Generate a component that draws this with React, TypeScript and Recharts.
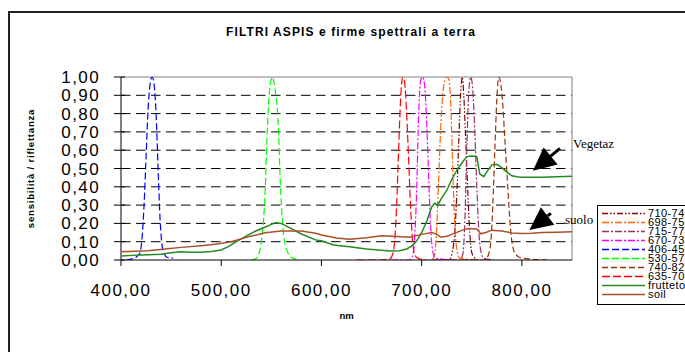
import React from 'react';
import { LineChart, Line, XAxis, YAxis, CartesianGrid, ReferenceLine, Label } from 'recharts';

type Pt = [number, number];

const xTicks = [400, 500, 600, 700, 800];
const yTicks = [0, 0.1, 0.2, 0.3, 0.4, 0.5, 0.6, 0.7, 0.8, 0.9, 1];

const f710_747: Pt[] = [[710, 0], [728, 0], [730, 0.03], [733, 0.15], [735, 0.35], [737, 0.65], [739, 0.92], [740.5, 1], [742, 0.9], [744, 0.65], [746, 0.38], [748, 0.15], [750, 0.04], [753, 0.01], [756, 0]];
const f698_754: Pt[] = [[698, 0], [710, 0], [713, 0.03], [715, 0.18], [717, 0.45], [719, 0.72], [721, 0.9], [723, 0.98], [725, 1], [727, 0.99], [729, 0.85], [731, 0.5], [733, 0.2], [735, 0.06], [738, 0.01], [754, 0]];
const f715_772: Pt[] = [[715, 0], [738, 0], [741, 0.03], [743, 0.2], [745, 0.6], [747, 0.92], [749, 1], [751, 0.93], [753, 0.7], [755, 0.4], [757, 0.16], [759, 0.05], [762, 0.01], [772, 0]];
const f670_733: Pt[] = [[670, 0], [688, 0], [691, 0.02], [693, 0.12], [695, 0.38], [697, 0.8], [699, 0.98], [701, 1], [703, 0.95], [705, 0.75], [707, 0.45], [709, 0.18], [711, 0.05], [714, 0.01], [733, 0]];
const f406_450: Pt[] = [[405, 0], [410, 0.005], [415, 0.015], [419, 0.04], [421, 0.12], [423, 0.3], [425, 0.56], [427, 0.82], [429, 0.96], [431, 1], [433, 0.96], [435, 0.8], [437, 0.5], [439, 0.22], [441, 0.08], [443, 0.035], [446, 0.015], [452, 0.01]];
const f530_575: Pt[] = [[530, 0], [535, 0.01], [538, 0.04], [540, 0.1], [542, 0.2], [544, 0.4], [545.5, 0.64], [548, 0.91], [551, 1], [553.5, 0.94], [557, 0.73], [559, 0.42], [561, 0.22], [562, 0.15], [564, 0.08], [567, 0.035], [570, 0.015], [575, 0.005]];
const f740_825: Pt[] = [[740, 0], [762, 0], [766, 0.02], [769, 0.1], [771, 0.3], [773, 0.6], [775, 0.88], [777, 1], [779, 0.96], [781, 0.84], [783, 0.66], [785, 0.48], [787, 0.3], [789, 0.15], [791, 0.07], [794, 0.03], [800, 0.01], [825, 0]];
const f635_704: Pt[] = [[635, 0], [660, 0], [668, 0.005], [671, 0.03], [673, 0.1], [675, 0.3], [677, 0.6], [679, 0.88], [681, 1], [683, 0.97], [685, 0.8], [687, 0.55], [689, 0.28], [691, 0.1], [693, 0.03], [696, 0.01], [704, 0]];

const frutteto: Pt[] = [[400, 0.022], [420, 0.028], [440, 0.031], [450, 0.04], [460, 0.045], [470, 0.043], [480, 0.042], [490, 0.046], [500, 0.055], [507, 0.073], [515, 0.1], [527, 0.137], [535, 0.16], [544, 0.18], [554, 0.204], [560, 0.2], [567, 0.18], [580, 0.142], [594, 0.11], [600, 0.105], [612, 0.082], [628, 0.073], [645, 0.06], [660, 0.053], [668, 0.049], [678, 0.05], [685, 0.06], [690, 0.075], [695, 0.105], [700, 0.15], [705, 0.21], [710, 0.29], [713, 0.31], [716, 0.3], [720, 0.34], [725, 0.38], [730, 0.44], [735, 0.49], [740, 0.53], [745, 0.565], [750, 0.568], [755, 0.565], [758, 0.47], [762, 0.455], [766, 0.49], [770, 0.52], [775, 0.523], [780, 0.505], [785, 0.48], [790, 0.46], [795, 0.455], [800, 0.452], [820, 0.452], [835, 0.455], [850, 0.457]];
const soil: Pt[] = [[400, 0.045], [427, 0.051], [444, 0.06], [460, 0.069], [480, 0.078], [494, 0.086], [510, 0.1], [527, 0.127], [544, 0.149], [560, 0.158], [580, 0.158], [594, 0.146], [600, 0.137], [615, 0.12], [628, 0.113], [645, 0.122], [660, 0.132], [675, 0.128], [688, 0.125], [700, 0.14], [710, 0.15], [715, 0.14], [719, 0.125], [725, 0.13], [730, 0.14], [740, 0.162], [747, 0.172], [755, 0.17], [759, 0.143], [764, 0.15], [770, 0.163], [780, 0.158], [790, 0.148], [800, 0.145], [810, 0.146], [820, 0.15], [835, 0.152], [850, 0.155]];

const legendNames = ['710-747', '698-754', '715-772', '670-733', '406-450', '530-575', '740-825', '635-704', 'frutteto', 'soil'];

const arrowVeg = [{ x: 838, y: 0.61 }, { x: 811, y: 0.488 }];
const arrowSoil = [{ x: 829, y: 0.255 }, { x: 807.5, y: 0.164 }];

const series = [
  { name: legendNames[0], pts: f710_747, color: '#800000', dash: '6 2 1.5 2 1.5 2', w: 1.2 },
  { name: legendNames[1], pts: f698_754, color: '#FF6600', dash: '7 2 2 2', w: 1.2 },
  { name: legendNames[2], pts: f715_772, color: '#993366', dash: '7 2 2 2', w: 1.2 },
  { name: legendNames[3], pts: f670_733, color: '#FF00FF', dash: '7 2 2 2', w: 1.2 },
  { name: legendNames[4], pts: f406_450, color: '#0000FF', dash: '7 3', w: 1.2 },
  { name: legendNames[5], pts: f530_575, color: '#00FF00', dash: '7 3', w: 1.2 },
  { name: legendNames[6], pts: f740_825, color: '#993300', dash: '6 3', w: 1.2 },
  { name: legendNames[7], pts: f635_704, color: '#FF0000', dash: '8 3', w: 1.2 },
  { name: legendNames[8], pts: frutteto, color: '#228B22', dash: undefined, w: 1.5 },
  { name: legendNames[9], pts: soil, color: '#A9502A', dash: undefined, w: 1.5 },
];

const toData = (pts: Pt[]) => pts.map(([x, y]) => ({ x, y }));
const fmt = (v: number) => v.toFixed(2).replace('.', ',');
const SANS = '"Liberation Sans", Arial, sans-serif';
const SERIF = '"Liberation Serif", "Times New Roman", serif';

const XTick = (p: any) => (
  <text x={p.x} y={p.y} dy="0.71em" textAnchor="middle" fontFamily={SANS} fontSize={17} fill="#000" style={{ letterSpacing: '1.5px' }}>
    {fmt(p.payload.value)}
  </text>
);

const YTick = (p: any) => (
  <g>
    <line x1={p.x + 21} x2={p.x + 25} y1={p.y} y2={p.y} stroke="#000" />
    <text x={p.x} y={p.y} dy="0.355em" textAnchor="end" fontFamily={SANS} fontSize={17} fill="#000" style={{ letterSpacing: '1.4px' }}>
      {fmt(p.payload.value)}
    </text>
  </g>
);

const ArrowShape = (p: any) => {
  const { x1, y1, x2, y2 } = p;
  if ([x1, y1, x2, y2].some((v) => typeof v !== 'number' || isNaN(v))) return null;
  const dx = x2 - x1, dy = y2 - y1;
  const len = Math.hypot(dx, dy) || 1;
  const ux = dx / len, uy = dy / len;
  const px = -uy, py = ux;
  const hl = 23, hw = 11;
  const bx = x2 - ux * hl, by = y2 - uy * hl;
  return (
    <g>
      <line x1={x1} y1={y1} x2={bx} y2={by} stroke="#000" strokeWidth={3} />
      <polygon points={`${x2},${y2} ${bx + px * hw},${by + py * hw} ${bx - px * hw},${by - py * hw}`} fill="#000" />
    </g>
  );
};

const YLabel = (p: any) => {
  const vb = p.viewBox || { x: 0, y: 77, width: 121, height: 183 };
  const cx = 33.5;
  const cy = vb.y + vb.height / 2;
  return (
    <text x={cx} y={cy} transform={`rotate(-90, ${cx}, ${cy})`} textAnchor="middle" fontFamily={SANS} fontWeight="bold" fontSize={9.5} fill="#000" style={{ letterSpacing: '0.8px' }}>
      sensibilità / riflettanza
    </text>
  );
};

const XLabel = (p: any) => {
  const vb = p.viewBox || { x: 121, y: 260, width: 451, height: 40 };
  return (
    <text x={vb.x + vb.width / 2} y={vb.y + 59} textAnchor="middle" fontFamily={SANS} fontWeight="bold" fontSize={9.5} fill="#000">
      nm
    </text>
  );
};

export default function App() {
  return (
    <div style={{ position: 'fixed', left: 0, top: 0, width: 685, height: 352, overflow: 'hidden', background: '#fff' }}>
      <div style={{ position: 'absolute', left: 8, top: 11, width: 760, height: 420, borderTop: '2px solid #222', borderLeft: '2px solid #222', boxSizing: 'border-box' }} />
      <div style={{ position: 'absolute', left: 101, top: 25.5, width: 500, textAlign: 'center', fontFamily: SANS, fontWeight: 'bold', fontSize: 12, lineHeight: '12px', letterSpacing: '1.1px', color: '#000', whiteSpace: 'nowrap' }}>
        FILTRI ASPIS e firme spettrali a terra
      </div>
      <div style={{ position: 'absolute', left: 0, top: 0 }}>
        <LineChart width={685} height={352} margin={{ top: 77, right: 113, bottom: 52, left: 0 }}>
          <CartesianGrid vertical={false} stroke="#000" strokeDasharray="9.5 5.5" horizontalValues={[0.1, 0.2, 0.3, 0.4, 0.5, 0.6, 0.7, 0.8, 0.9]} />
          <XAxis
            type="number"
            dataKey="x"
            domain={[400, 850]}
            ticks={xTicks}
            interval={0}
            allowDataOverflow
            height={40}
            tickSize={6}
            tickMargin={18}
            axisLine={{ stroke: '#000', strokeWidth: 1 }}
            tickLine={{ stroke: '#000' }}
            tick={XTick}
          >
            <Label content={XLabel} />
          </XAxis>
          <YAxis
            type="number"
            domain={[0, 1]}
            ticks={yTicks}
            interval={0}
            allowDataOverflow
            width={121}
            tickSize={7}
            tickMargin={14}
            axisLine={{ stroke: '#808080', strokeWidth: 2 }}
            tickLine={{ stroke: '#000' }}
            tick={YTick}
          >
            <Label content={YLabel} />
          </YAxis>
          <ReferenceLine y={1} stroke="#808080" strokeWidth={1} />
          <ReferenceLine x={850} stroke="#808080" strokeWidth={1} />
          {series.map((s) => (
            <Line
              key={s.name}
              name={s.name}
              data={toData(s.pts)}
              dataKey="y"
              type={s.dash ? 'monotone' : 'linear'}
              stroke={s.color}
              strokeWidth={s.w}
              strokeDasharray={s.dash}
              dot={false}
              activeDot={false}
              isAnimationActive={false}
            />
          ))}
          <ReferenceLine segment={arrowVeg} shape={ArrowShape} ifOverflow="visible" />
          <ReferenceLine segment={arrowSoil} shape={ArrowShape} ifOverflow="visible" />
        </LineChart>
      </div>
      <div style={{ position: 'absolute', left: 573, top: 137, fontFamily: SERIF, fontSize: 13, lineHeight: '13px', color: '#000', whiteSpace: 'nowrap' }}>Vegetaz</div>
      <div style={{ position: 'absolute', left: 565, top: 213, fontFamily: SERIF, fontSize: 13, lineHeight: '13px', color: '#000', whiteSpace: 'nowrap' }}>suolo</div>
      <div style={{ position: 'absolute', left: 597, top: 205, width: 200, height: 100, border: '1px solid #000', background: '#fff', boxSizing: 'border-box' }}>
        {series.map((s, i) => (
          <div key={s.name} style={{ position: 'absolute', left: 0, top: 2.5 + i * 9, height: 9, display: 'flex', alignItems: 'center', whiteSpace: 'nowrap' }}>
            <svg width={50} height={9} style={{ display: 'block' }}>
              <line x1={4} y1={4.5} x2={47} y2={4.5} stroke={s.color} strokeWidth={1.5} strokeDasharray={s.dash} />
            </svg>
            <span style={{ fontFamily: SANS, fontSize: 11, lineHeight: '9px', letterSpacing: '0.4px', color: '#000' }}>{s.name}</span>
          </div>
        ))}
      </div>
    </div>
  );
}
